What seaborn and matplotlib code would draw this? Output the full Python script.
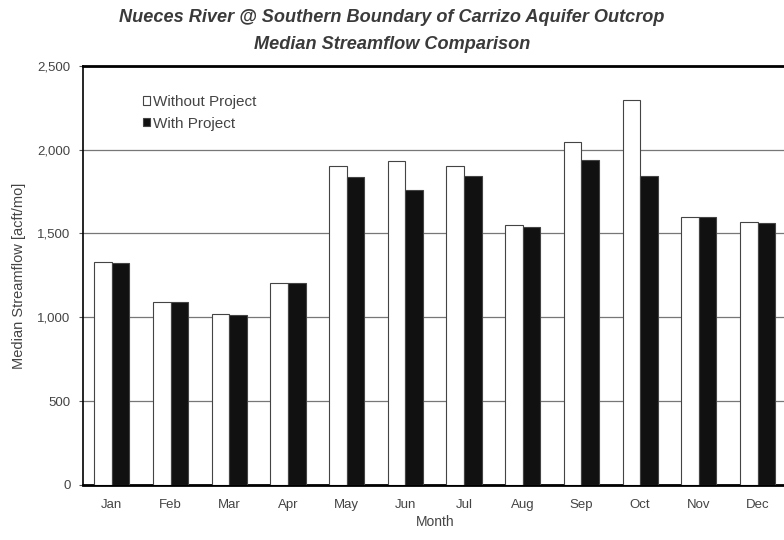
import matplotlib
matplotlib.use("Agg")
import matplotlib.pyplot as plt
import seaborn as sns
import pandas as pd

months = ["Jan", "Feb", "Mar", "Apr", "May", "Jun", "Jul", "Aug", "Sep", "Oct", "Nov", "Dec"]
without_project = [1330, 1090, 1020, 1205, 1905, 1930, 1900, 1550, 2045, 2295, 1600, 1568]
with_project = [1322, 1092, 1015, 1205, 1836, 1757, 1842, 1538, 1937, 1842, 1599, 1562]
series_names = ["Without Project", "With Project"]
y_ticks = [0, 500, 1000, 1500, 2000, 2500]
y_ticklabels = ["0", "500", "1,000", "1,500", "2,000", "2,500"]

df = pd.DataFrame({
    "Month": months * 2,
    "Flow": without_project + with_project,
    "Series": [series_names[0]] * 12 + [series_names[1]] * 12,
})

sns.set_theme(style="white")
plt.rcParams["font.family"] = ["Liberation Sans", "DejaVu Sans"]

fig = plt.figure(figsize=(7.84, 5.40), dpi=100)
ax = fig.add_axes([0.106, 0.102, 0.897, 0.776])

sns.barplot(data=df, x="Month", y="Flow", hue="Series", order=months,
            hue_order=series_names, palette=["white", "#111111"],
            width=0.6, edgecolor="#444444", linewidth=0.8, ax=ax, errorbar=None,
            zorder=3)

txt_color = "#444444"
ax.set_ylim(0, 2500)
ax.set_xlim(-0.49, 11.49)
ax.set_yticks(y_ticks)
ax.set_yticklabels(y_ticklabels, fontsize=9.5, color=txt_color)
for lab in ax.get_xticklabels():
    lab.set_color(txt_color)
ax.tick_params(axis="x", labelsize=9.5, length=0, pad=10)
ax.tick_params(axis="y", length=3, width=0.8, color="#555555", pad=6, left=True)
ax.yaxis.grid(True, color="#777777", linewidth=0.9, zorder=0)
ax.set_axisbelow(True)

for side in ["top", "left", "bottom"]:
    ax.spines[side].set_visible(True)
    ax.spines[side].set_color("black")
ax.spines["top"].set_linewidth(2.0)
ax.spines["left"].set_linewidth(1.2)
ax.spines["bottom"].set_linewidth(2.0)
ax.spines["right"].set_visible(False)

ax.set_xlabel("Month", fontsize=10, labelpad=3, color=txt_color)
ax.set_ylabel("Median Streamflow [acft/mo]", fontsize=10.5, labelpad=8, color=txt_color)

handles, labels = ax.get_legend_handles_labels()
leg = ax.legend(handles, labels, loc="upper left", bbox_to_anchor=(0.077, 0.945),
                frameon=False, fontsize=11, handlelength=0.45, handleheight=0.45,
                handletextpad=0.15, labelspacing=0.5, borderaxespad=0)
for t in leg.get_texts():
    t.set_color(txt_color)

fig.text(0.5, 0.968, "Nueces River @ Southern Boundary of Carrizo Aquifer Outcrop",
         ha="center", va="center", fontsize=13.1, style="italic", weight="bold",
         color="#3a3a3a")
fig.text(0.5, 0.918, "Median Streamflow Comparison",
         ha="center", va="center", fontsize=13.1, style="italic", weight="bold",
         color="#3a3a3a")

fig.savefig("out.png", dpi=100)
